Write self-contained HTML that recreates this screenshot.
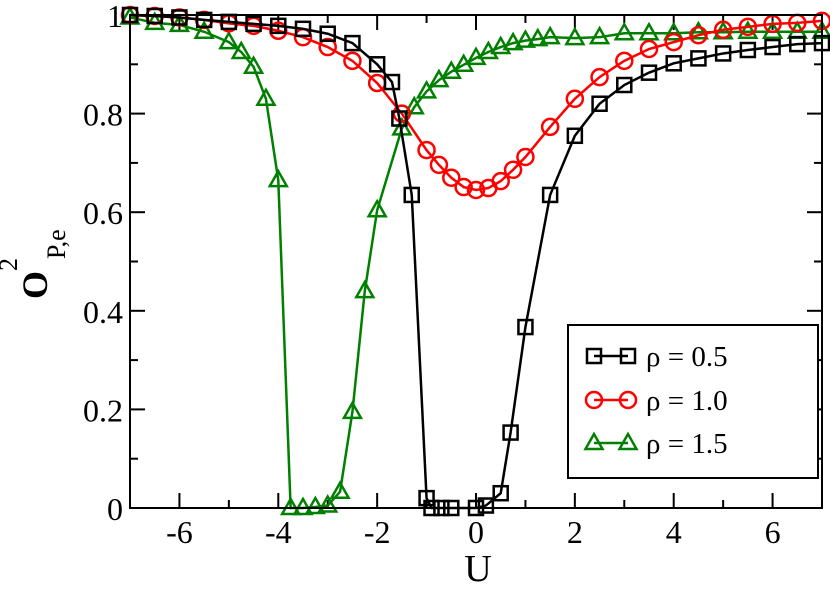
<!DOCTYPE html>
<html><head><meta charset="utf-8"><style>
html,body{margin:0;padding:0;background:#fff;}
svg text{font-family:"Liberation Serif",serif;}
</style></head><body>
<svg id="chart" width="830" height="584" viewBox="0 0 830 584" xmlns="http://www.w3.org/2000/svg"></svg>
<script>
const xTicks=[-6,-4,-2,0,2,4,6];
const xTickLabels=["-6","-4","-2","0","2","4","6"];
const yTicks=[0,0.2,0.4,0.6,0.8,1];
const yTickLabels=["0","0.2","0.4","0.6","0.8","1"];
const u05=[-7,-6.5,-6,-5.5,-5,-4.5,-4,-3.5,-3,-2.5,-2,-1.7,-1.55,-1.3,-1.0,-0.9,-0.7,-0.5,0,0.2,0.5,0.7,1.0,1.5,2,2.5,3,3.5,4,4.5,5,5.5,6,6.5,7];
const o05=[1.0,0.998,0.995,0.99,0.986,0.982,0.978,0.972,0.962,0.943,0.9,0.864,0.79,0.635,0.02,0.0,0.0,0.0,0.0,0.005,0.03,0.153,0.367,0.635,0.755,0.82,0.858,0.883,0.902,0.912,0.922,0.929,0.935,0.941,0.943];
const u10=[-7,-6.5,-6,-5.5,-5,-4.5,-4,-3.5,-3,-2.5,-2,-1.5,-1,-0.75,-0.5,-0.25,0,0.25,0.5,0.75,1,1.5,2,2.5,3,3.5,4,4.5,5,5.5,6,6.5,7];
const o10=[1.0,0.998,0.995,0.99,0.983,0.978,0.968,0.955,0.935,0.907,0.862,0.8,0.726,0.696,0.67,0.651,0.645,0.649,0.663,0.686,0.712,0.773,0.83,0.874,0.907,0.931,0.945,0.959,0.97,0.976,0.982,0.984,0.988];
const u15=[-7,-6.5,-6,-5.5,-5,-4.75,-4.5,-4.25,-4,-3.75,-3.5,-3.25,-3,-2.75,-2.5,-2.25,-2,-1.5,-1.25,-1,-0.75,-0.5,-0.25,0,0.25,0.5,0.75,1,1.25,1.5,2,2.5,3,3.5,4,4.5,5,5.5,6,6.5,7];
const o15=[0.995,0.984,0.98,0.966,0.945,0.925,0.895,0.83,0.665,0.0,0.0,0.002,0.005,0.033,0.195,0.44,0.604,0.77,0.813,0.845,0.868,0.885,0.899,0.913,0.925,0.935,0.943,0.948,0.951,0.955,0.953,0.955,0.963,0.963,0.963,0.965,0.965,0.966,0.966,0.966,0.966];

const svg=document.getElementById('chart');
const NS='http://www.w3.org/2000/svg';
const L=130,R=822,T=15,B=508;
const xs=u=>L+(u+7)/14*(R-L);
const ys=v=>B-v*(B-T);
function mk(tag,attrs,parent){const e=document.createElementNS(NS,tag);for(const k in attrs)e.setAttribute(k,attrs[k]);(parent||svg).appendChild(e);return e;}

const tk=mk('g',{});


for(let u=-7;u<=7;u++){const len=(u%2===0)?15:8;const x=xs(u);
 mk('line',{x1:x,y1:B,x2:x,y2:B-len,stroke:'#000','stroke-width':2},tk);
 mk('line',{x1:x,y1:T,x2:x,y2:T+len,stroke:'#000','stroke-width':2},tk);}
for(let i=0;i<=10;i++){const v=i/10;const len=(i%2===0)?15:8;const y=ys(v);
 mk('line',{x1:L,y1:y,x2:L+len,y2:y,stroke:'#000','stroke-width':2},tk);
 mk('line',{x1:R,y1:y,x2:R-len,y2:y,stroke:'#000','stroke-width':2},tk);}
xTicks.forEach((u,i)=>{const t=mk('text',{x:xs(u),y:B+35,'text-anchor':'middle','font-size':32});t.textContent=xTickLabels[i];
 
 });
yTicks.forEach((v,i)=>{const t=mk('text',{x:L-7,y:ys(v)+12,'text-anchor':'end','font-size':32});t.textContent=yTickLabels[i];
 
 });

function series(us,os,color,shape,name){
 const g=mk('g',{});
 
 
 mk('polyline',{points:us.map((u,i)=>xs(u)+','+ys(os[i])).join(' '),fill:'none',stroke:color,'stroke-width':2.5},g);
 us.forEach((u,i)=>drawMarker(g,xs(u),ys(os[i]),color,shape));
}
function drawMarker(g,x,y,color,shape){
 let m;
 if(shape==='sq') m=mk('rect',{x:x-7,y:y-7,width:14,height:14,fill:'none',stroke:color,'stroke-width':2.5},g);
 else if(shape==='ci') m=mk('circle',{cx:x,cy:y,r:8,fill:'none',stroke:color,'stroke-width':2.5},g);
 else m=mk('polygon',{points:`${x},${y-9} ${x-8.5},${y+6} ${x+8.5},${y+6}`,fill:'none',stroke:color,'stroke-width':2.5},g);
 
 
}
series(u15,o15,'#008000','tr','series-rho-1.5');
series(u10,o10,'#ff0000','ci','series-rho-1.0');
series(u05,o05,'#000000','sq','series-rho-0.5');

const fr=mk('rect',{x:L,y:T,width:R-L,height:B-T,fill:'none',stroke:'#000','stroke-width':2});



const lg=mk('g',{});


mk('rect',{x:568,y:325,width:250,height:153,fill:'#fff',stroke:'#000','stroke-width':2},lg);
const entries=[['ρ = 0.5','#000','sq',356],['ρ = 1.0','#ff0000','ci',400],['ρ = 1.5','#008000','tr',443]];
entries.forEach(e=>{
 const eg=mk('g',{},lg);
 
 
 mk('line',{x1:594,y1:e[3],x2:628,y2:e[3],stroke:e[1],'stroke-width':2.5},eg);
 drawMarker(eg,594,e[3],e[1],e[2]);drawMarker(eg,628,e[3],e[1],e[2]);
 const t=mk('text',{x:646,y:e[3]+10,'font-size':29},eg);t.textContent=e[0];
});

const xt=mk('text',{x:478,y:581,'text-anchor':'middle','font-size':38});xt.textContent='U';


const yt=mk('text',{transform:'translate(47,299) rotate(-90)','text-anchor':'start','font-size':36,'font-weight':'bold'});


yt.innerHTML='O<tspan dy="-30" font-size="26" font-weight="normal">2</tspan><tspan dy="48" dx="-1" font-size="26" font-weight="normal">P,e</tspan>';
</script>
</body></html>
